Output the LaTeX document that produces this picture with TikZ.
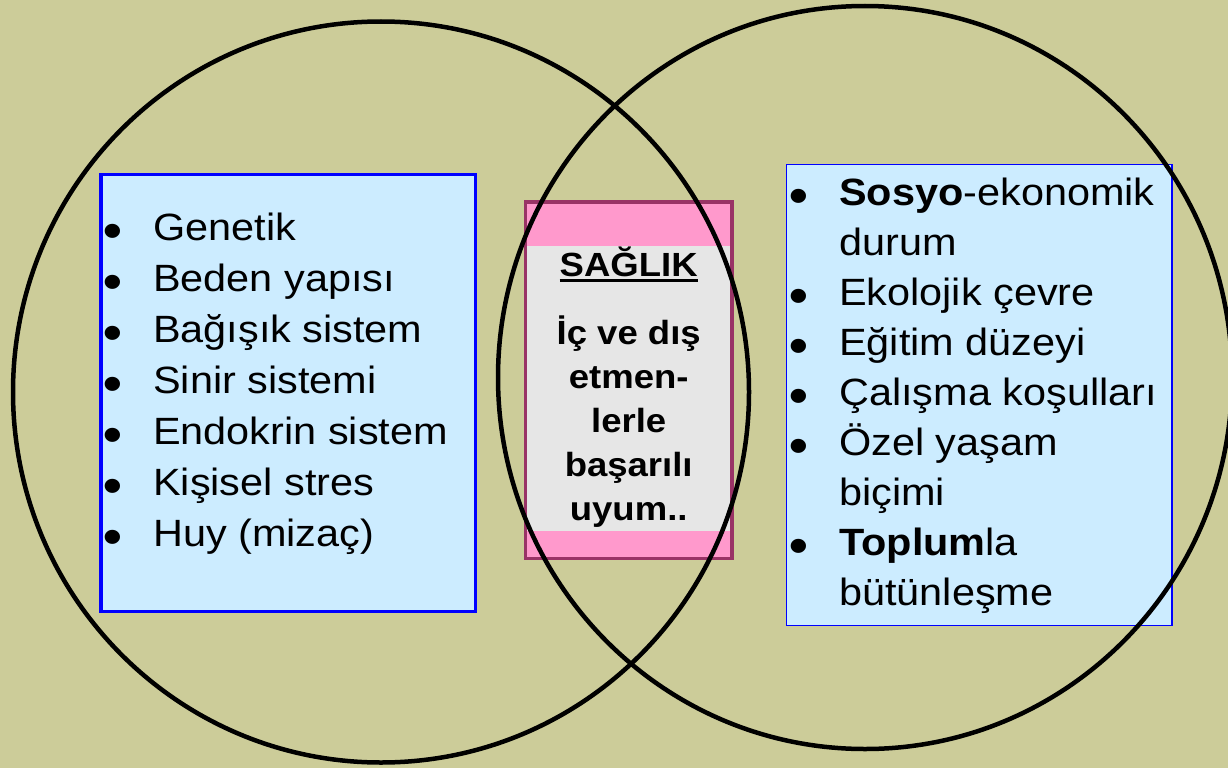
\documentclass[tikz,border=0pt]{standalone}
\usepackage{fontspec}
\setmainfont{Liberation Sans}[FakeStretch=1.09]
\definecolor{bgolive}{HTML}{CCCC99}
\definecolor{lblue}{HTML}{CCECFF}
\definecolor{boxblue}{HTML}{0000FF}
\definecolor{cpink}{HTML}{FF99CC}
\definecolor{cgray}{HTML}{E6E6E6}
\definecolor{cmaroon}{HTML}{993366}
\begin{document}
\begin{tikzpicture}[x=1pt,y=-1pt,
  listtext/.style={inner sep=0pt, anchor=base west, font=\fontsize{38}{46}\selectfont},
  bul/.style={inner sep=0pt, anchor=base, text height=0pt, text depth=0pt, font=\fontsize{49}{50}\selectfont\bfseries},
  ctext/.style={inner sep=0pt, anchor=base, font=\fontsize{33.5}{40}\selectfont\bfseries},
  ring/.style={draw=black, line width=4.5pt}]
\fill[bgolive] (0,0) rectangle (1228,768);
\useasboundingbox (0,0) rectangle (1228,768);
% boxes
\node[draw=boxblue, line width=3.5pt, fill=lblue, inner sep=0pt,
      minimum width=374.5pt, minimum height=437pt] (lbox) at (288.25,393) {};
\node[draw=boxblue, line width=1.3pt, fill=lblue, inner sep=0pt,
      minimum width=385.3pt, minimum height=461.1pt] (rbox) at (979.35,395.25) {};
\node[fill=cpink, inner sep=0pt,
      minimum width=206pt, minimum height=356pt] (cbox) at (628.7,380.3) {};
\fill[cgray] (cbox.west |- {(0,246)}) rectangle (cbox.east |- {(0,531)});
\draw[cmaroon, line width=3.3pt] (cbox.north west) rectangle (cbox.south east);
% left list
\foreach \t [count=\i from 0] in {Genetik, Beden yapısı, Bağışık sistem, Sinir sistemi, Endokrin sistem, Kişisel stres, Huy (mizaç)} {
  \node[listtext] (l\i) at (153,{240+51*\i}) {\t};
  \node[bul] (lb\i) at (113,{247+51*\i}) {•};
}
% right list
\foreach \t [count=\i from 0] in {{\textbf{Sosyo}-ekonomik}, durum, Ekolojik çevre, Eğitim düzeyi, Çalışma koşulları, Özel yaşam, biçimi, {\textbf{Toplum}la}, bütünleşme} {
  \node[listtext] (r\i) at (839,{205+50*\i}) {\t};
}
\foreach \i in {0,2,3,4,5,7} {
  \node[bul] (rb\i) at (799,{212+50*\i}) {•};
}
% center text
\node[ctext] (c0) at (628.7,276) {SAĞLIK};
\draw[line width=2.2pt] ([yshift=-4.5pt]c0.base west) -- ([yshift=-4.5pt]c0.base east);
\foreach \t [count=\i from 1] in {İç ve dış, etmen-, lerle, başarılı, uyum..} {
  \node[ctext] (c\i) at (628.7,{300+44*\i}) {\t};
}
% circles
\draw[ring] (381,392) ellipse [x radius=368pt, y radius=370.5pt];
\draw[ring] (865,377.5) ellipse [x radius=367pt, y radius=371.5pt];
\end{tikzpicture}
\end{document}
